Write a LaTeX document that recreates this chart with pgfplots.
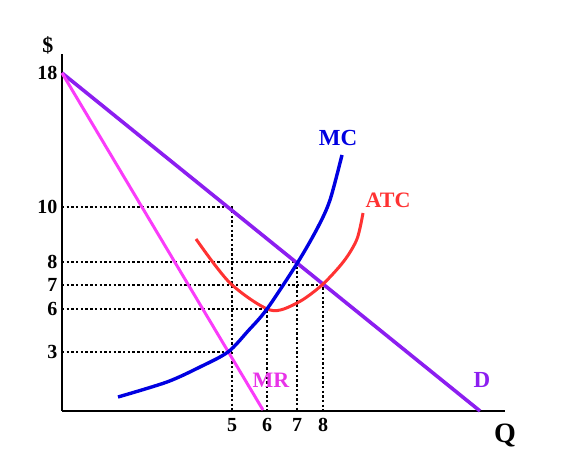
\documentclass[border=0pt]{standalone}
\usepackage{fontspec}
\setmainfont{Liberation Serif}
\usepackage{pgfplots}
\pgfplotsset{compat=1.18}
\definecolor{dcol}{RGB}{140,30,240}
\definecolor{mrcol}{RGB}{250,60,250}
\definecolor{mccol}{RGB}{0,0,225}
\definecolor{atccol}{RGB}{255,50,50}
\begin{document}
\begin{tikzpicture}
\path (-62pt,-51pt) rectangle (514pt,411pt);
\begin{axis}[
  at={(0,0)}, anchor=origin,
  scale only axis, width=443pt, height=357pt,
  xmin=0, xmax=443, ymin=0, ymax=357,
  axis lines=left,
  axis line style={-, line width=2.8pt},
  clip=false,
  major tick length=0pt,
  xtick={170,205,235,261}, xticklabels={5,6,7,8},
  ytick={59,102,126,149,204,338}, yticklabels={3,6,7,8,10,18},
  /pgf/number format/assume math mode=true,
  ticklabel style={font=\bfseries\fontsize{20}{20}\selectfont},
  xticklabel style={yshift=-4pt},
  yticklabel style={xshift=-1pt},
]
% dotted guide lines
\addplot[black, line width=2.5pt, dash pattern=on 2.4pt off 2.3pt] coordinates {(0,204) (170,204) (170,0)};
\addplot[black, line width=2.5pt, dash pattern=on 2.4pt off 2.3pt] coordinates {(0,149) (235,149) (235,0)};
\addplot[black, line width=2.5pt, dash pattern=on 2.4pt off 2.3pt] coordinates {(0,126) (261,126) (261,0)};
\addplot[black, line width=2.5pt, dash pattern=on 2.4pt off 2.3pt] coordinates {(0,102) (205,102) (205,0)};
\addplot[black, line width=2.5pt, dash pattern=on 2.4pt off 2.3pt] coordinates {(0,59) (170,59)};
% demand and MR
\addplot[dcol, line width=3.6pt] coordinates {(0,338) (418,0)};
\addplot[mrcol, line width=3pt] coordinates {(0,338) (201,1)};
% ATC
\addplot[atccol, line width=3pt, smooth] coordinates {(134,172) (168,128) (208,101) (235,108) (260,126) (282,150) (295,172) (301,198)};
% MC
\addplot[mccol, line width=3.4pt, smooth] coordinates {(56,14) (105,29) (138,44) (166,59) (186,80) (205,102) (236,149) (256,184) (268,211) (280,256)};
% labels
\node[font=\bfseries\fontsize{22}{22}\selectfont] at (axis cs:-14,366) {\$};
\node[font=\bfseries\fontsize{28}{28}\selectfont] at (axis cs:443,-25) {Q};
\node[font=\bfseries\fontsize{23}{23}\selectfont, text=mccol] at (axis cs:276,273) {MC};
\node[font=\bfseries\fontsize{22}{22}\selectfont, text=atccol] at (axis cs:326,211) {ATC};
\node[font=\bfseries\fontsize{22}{22}\selectfont, text=mrcol!85!violet] at (axis cs:209,31) {MR};
\node[font=\bfseries\fontsize{23}{23}\selectfont, text=dcol] at (axis cs:420,31) {D};
\end{axis}
\end{tikzpicture}
\end{document}
